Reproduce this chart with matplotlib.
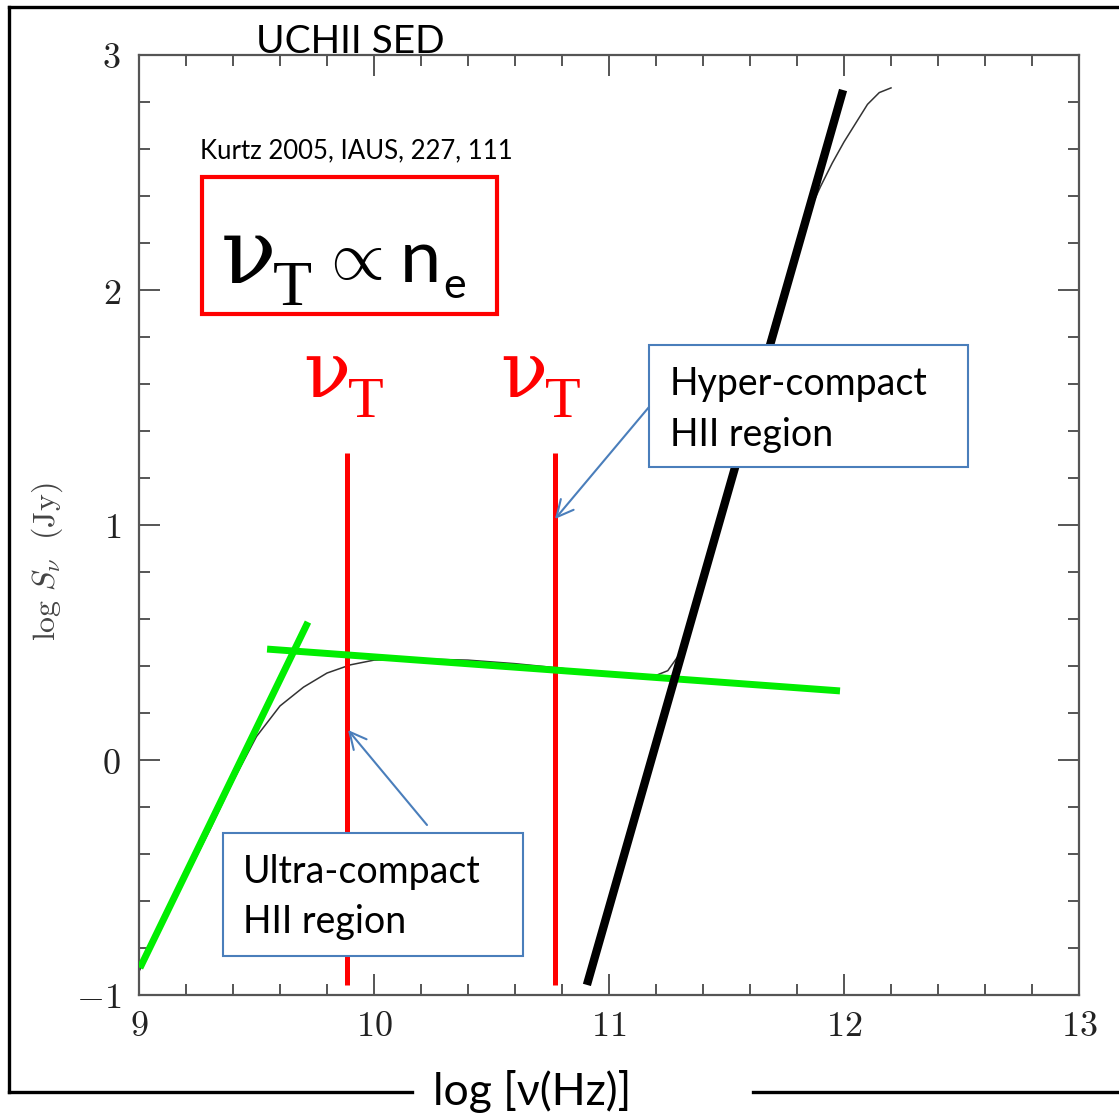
import matplotlib
matplotlib.use('Agg')
import matplotlib.pyplot as plt
from matplotlib.patches import Rectangle
from matplotlib.ticker import MultipleLocator, FuncFormatter

plt.rcParams['mathtext.fontset'] = 'cm'

# SED curve (log nu [Hz], log S [Jy])
sed_x = [9.0, 9.1, 9.2, 9.3, 9.4, 9.5, 9.6, 9.7, 9.8, 9.9, 10.0, 10.2, 10.4, 10.6,
         10.8, 11.0, 11.1, 11.2, 11.25, 11.3, 11.4, 11.5, 11.6, 11.7, 11.8, 11.85,
         11.9, 11.95, 12.0, 12.05, 12.1, 12.15, 12.2]
sed_y = [-0.90, -0.70, -0.50, -0.30, -0.09, 0.10, 0.23, 0.31, 0.37, 0.405, 0.425, 0.43,
         0.425, 0.41, 0.39, 0.36, 0.355, 0.36, 0.38, 0.45, 0.78, 1.15, 1.51, 1.86, 2.20,
         2.33, 2.44, 2.54, 2.63, 2.71, 2.79, 2.84, 2.86]

# hand drawn fits
thick_x = [9.004, 9.719]          # optically thick part (green)
thick_y = [-0.885, 0.587]
thin_x = [9.545, 11.983]          # optically thin part (green)
thin_y = [0.472, 0.294]
dust_x = [10.906, 11.996]         # black line
dust_y = [-0.957, 2.851]

# turnover frequencies (red)
nu_t = [9.885, 10.77]
nu_t_y = [-0.957, 1.306]

fig = plt.figure(figsize=(11.19, 11.13), dpi=100)
W, H = 1119, 1113

ax = fig.add_axes([139 / W, (H - 995) / H, 940 / W, 940 / H])
ax.set_xlim(9, 13)
ax.set_ylim(-1, 3)
ax.xaxis.set_major_locator(MultipleLocator(1))
ax.xaxis.set_minor_locator(MultipleLocator(0.2))
ax.yaxis.set_major_locator(MultipleLocator(1))
ax.yaxis.set_minor_locator(MultipleLocator(0.2))
fmt = FuncFormatter(lambda v, p: '$%d$' % round(v))
ax.xaxis.set_major_formatter(fmt)
ax.yaxis.set_major_formatter(fmt)
ax.tick_params(which='both', direction='in', top=True, right=True, colors='#555',
               labelcolor='#222', width=1.4)
ax.tick_params(which='major', length=15, labelsize=26)
ax.tick_params(axis='x', which='major', pad=10)
ax.tick_params(axis='y', which='major', pad=13)
ax.tick_params(which='minor', length=8)
for s in ax.spines.values():
    s.set_color('#555')
    s.set_linewidth(1.6)

ax.plot(sed_x, sed_y, color='#333', lw=1.1, zorder=2)
for xv in nu_t:
    ax.plot([xv, xv], nu_t_y, color='red', lw=3.6, solid_capstyle='butt', zorder=3)
ax.plot(thin_x, thin_y, color='#00ee00', lw=5, solid_capstyle='butt', zorder=4)
ax.plot(thick_x, thick_y, color='#00ee00', lw=5, solid_capstyle='butt', zorder=4)
ax.plot(dust_x, dust_y, color='black', lw=6, solid_capstyle='butt', zorder=5)

# overlay in pixel coordinates for the slide annotations
ov = fig.add_axes([0, 0, 1, 1], zorder=5)
ov.set_xlim(0, W)
ov.set_ylim(H, 0)
ov.axis('off')

sans = ['Lato', 'DejaVu Sans']
blue = '#4a7ebb'

# slide frame
ov.plot([9, 1119], [7, 7], color='black', lw=2.4)
ov.plot([9, 9], [7, 1092], color='black', lw=2.4)
ov.plot([9, 412], [1092, 1092], color='black', lw=2.4)
ov.plot([753, 1119], [1092, 1092], color='black', lw=2.4)

ov.text(256, 53, 'UCHII SED', family=sans, fontsize=28, va='baseline')
ov.text(433, 1105, 'log [ν(Hz)]', family=sans, fontsize=32, va='baseline')
ov.text(47, 562, r'$\mathrm{log}\ S_\nu\ \ (\mathrm{Jy})$', fontsize=23, rotation=90,
        ha='center', va='center', color='#444')
ov.text(200, 158, 'Kurtz 2005, IAUS, 227, 111', family=sans, fontsize=18.5,
        va='baseline')

# red box with the relation
ov.add_patch(Rectangle((202, 177), 295, 137, fill=False, ec='red', lw=3))
ov.text(221, 283, 'ν', family='DejaVu Serif', fontsize=66, va='baseline')
ov.text(273, 305, 'T', family='Liberation Serif', fontsize=46, va='baseline')
ov.text(318, 260, r'$\propto$', fontsize=50, math_fontfamily='cm', va='center')
ov.text(400, 282, 'n', family=sans, fontsize=53, va='baseline')
ov.text(443, 298, 'e', family=sans, fontsize=31, va='baseline')

# nu_T labels above the red lines
for xl in [303, 500]:
    ov.text(xl, 397, 'ν', family='DejaVu Serif', fontsize=56, color='red',
            va='baseline')
    ov.text(xl + 45, 417, 'T', family='Liberation Serif', fontsize=42, color='red',
            va='baseline')

# callout boxes
ov.add_patch(Rectangle((649, 345), 319, 122, fc='white', ec=blue, lw=1.5))
ov.text(670, 395, 'Hyper-compact', family=sans, fontsize=27, va='baseline')
ov.text(670, 446, 'HII region', family=sans, fontsize=27, va='baseline')
ov.annotate('', xy=(555, 519), xytext=(649, 407),
            arrowprops=dict(arrowstyle='->,head_length=0.6,head_width=0.3',
                            color=blue, lw=1.5, mutation_scale=20, shrinkA=0, shrinkB=0))

ov.add_patch(Rectangle((223, 833), 300, 123, fc='white', ec=blue, lw=1.5))
ov.text(243, 883, 'Ultra-compact', family=sans, fontsize=27, va='baseline')
ov.text(243, 933, 'HII region', family=sans, fontsize=27, va='baseline')
ov.annotate('', xy=(348, 730), xytext=(427, 825),
            arrowprops=dict(arrowstyle='->,head_length=0.6,head_width=0.3',
                            color=blue, lw=1.5, mutation_scale=20, shrinkA=0, shrinkB=0))

fig.savefig('out.png', dpi=100)
